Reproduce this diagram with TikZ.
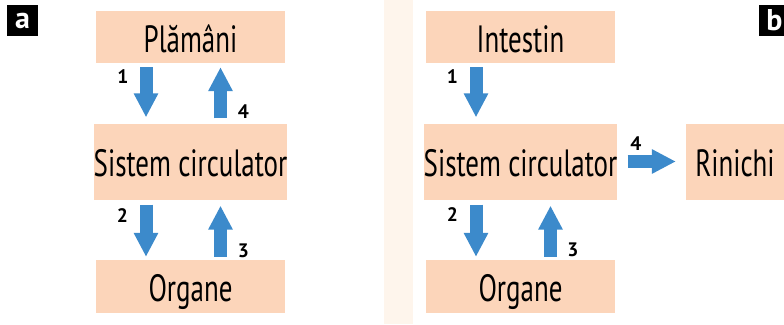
\documentclass[tikz,border=0pt]{standalone}
\usepackage{fontspec}
\setmainfont{PT Sans}
\newfontfamily\boxfont{PT Sans}[FakeStretch=0.71]
\usetikzlibrary{arrows.meta}
\definecolor{peach}{HTML}{FCD5BA}
\definecolor{arrblue}{HTML}{3C8ACB}
\definecolor{stripe}{HTML}{FEF5EC}
\tikzset{
  box/.style={fill=peach, inner sep=0pt, text height=30pt, text depth=0pt,
    font=\boxfont\fontsize{38}{40}\selectfont},
  blk/.style={draw=arrblue, line width=13pt,
    -{Triangle[width=23pt,length=24pt]}},
  num/.style={inner sep=0pt, font=\bfseries\fontsize{19.5}{21}\selectfont},
  tag/.style={fill=black, text=white, minimum size=31pt, inner sep=0pt,
    font=\bfseries\fontsize{30}{32}\selectfont}
}
\begin{document}
\begin{tikzpicture}[x=1pt,y=-1pt]
\useasboundingbox (0,0) rectangle (784,324);
\fill[stripe] (384,0) rectangle (413,324);
% panel a
\node[tag] (ta) at (22.5,20.5) {a};
\node[box, minimum width=189pt, minimum height=52pt] (pl) at (190.5,37) {Plămâni};
\node[box, minimum width=189pt, minimum height=76pt] (sc) at (190.5,161.5) {Sistem circulator};
\node[box, minimum width=189pt, minimum height=53pt] (or) at (190.5,286.5) {Organe};
\draw[blk, shorten <=4pt, shorten >=6pt] ([xshift=-44.5pt]pl.south) -- ([xshift=-44.5pt]sc.north);
\draw[blk, shorten <=5pt, shorten >=4pt] ([xshift=30pt]sc.north) -- ([xshift=30pt]pl.south);
\draw[blk, shorten <=5pt, shorten >=3pt] ([xshift=-44.5pt]sc.south) -- ([xshift=-44.5pt]or.north);
\draw[blk, shorten <=3pt, shorten >=6pt] ([xshift=30pt]or.north) -- ([xshift=30pt]sc.south);
\node[num] (a1) at (123,76.5) {1};
\node[num] (a4) at (243.5,111.5) {4};
\node[num] (a2) at (122.5,216) {2};
\node[num] (a3) at (243.5,251) {3};
% panel b
\node[tag] (tb) at (774.5,20.5) {b};
\node[box, minimum width=189pt, minimum height=52pt] (in) at (520.5,37) {Intestin};
\node[box, minimum width=189pt, minimum height=76pt] (sc2) at (520.5,161.5) {Sistem circulator};
\node[box, minimum width=189pt, minimum height=53pt] (or2) at (520.5,286.5) {Organe};
\node[box, minimum width=98pt, minimum height=76pt] (ri) at (735,161.5) {Rinichi};
\draw[blk, shorten <=4pt, shorten >=6pt] ([xshift=-44.5pt]in.south) -- ([xshift=-44.5pt]sc2.north);
\draw[blk, shorten <=5pt, shorten >=3pt] ([xshift=-44.5pt]sc2.south) -- ([xshift=-44.5pt]or2.north);
\draw[blk, shorten <=3pt, shorten >=6pt] ([xshift=30pt]or2.north) -- ([xshift=30pt]sc2.south);
\draw[blk, shorten <=10pt, shorten >=10pt] (sc2.east) -- (ri.west);
\node[num] (b1) at (452.5,76.5) {1};
\node[num] (b2) at (452.5,215) {2};
\node[num] (b3) at (573,250) {3};
\node[num] (b4) at (636,143.5) {4};
\end{tikzpicture}
\end{document}
